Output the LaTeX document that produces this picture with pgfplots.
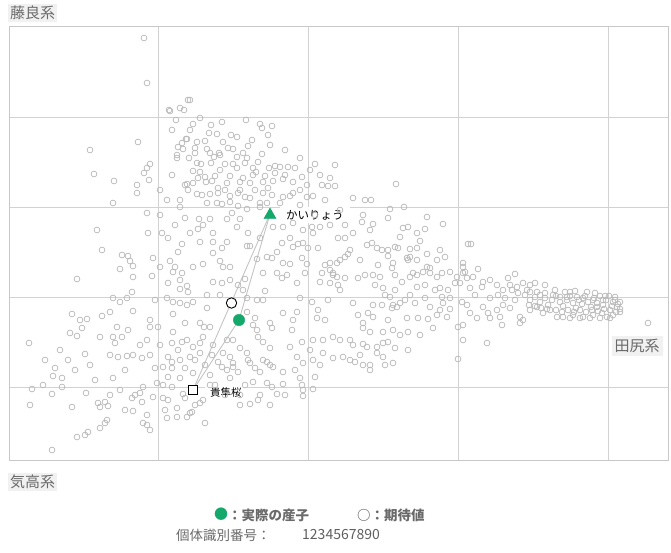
\documentclass[border=0pt]{standalone}
\usepackage{pgfplots}
\pgfplotsset{compat=1.18}
\usepackage{fontspec}
\setmainfont{Noto Sans CJK JP}
\definecolor{ptgray}{HTML}{B8B8B8}
\definecolor{gridgray}{HTML}{D2D2D2}
\definecolor{framegray}{HTML}{C8C8C8}
\definecolor{lblbg}{HTML}{F1F1F1}
\definecolor{lbltext}{HTML}{6A6A6A}
\definecolor{mygreen}{HTML}{14A86A}
\definecolor{linegray}{HTML}{C4C4C4}
\begin{document}
\begin{tikzpicture}
\begin{axis}[
  scale only axis, width=659pt, height=433pt,
  xmin=9, xmax=668, ymin=27, ymax=460, y dir=reverse,
  xtick={158,308,458,608}, ytick={117,207,297,387},
  xticklabels={}, yticklabels={}, major tick length=0pt,
  grid=major, grid style={draw=gridgray, line width=0.8pt},
  axis line style={draw=framegray, line width=1pt},
  clip=false,
]
\path (axis cs:0,0) rectangle (axis cs:671,553);
\addplot[only marks, mark=o, mark size=2.9pt, color=ptgray, mark options={line width=0.7pt}] table {
x y
144 38
147 83
188 100
190 100
169 110
180 108
184 110
193 124
211 125
260 124
262 128
272 126
172 130
209 133
217 134
231 135
237 137
138 142
90 150
186 139
182 143
197 142
183 149
195 148
207 149
210 153
228 148
233 149
262 154
220 155
243 153
150 164
147 168
144 173
94 174
114 181
137 185
137 193
149 180
113 203
177 158
189 158
197 163
201 164
211 163
193 171
225 164
233 164
237 168
247 158
245 163
253 168
258 162
253 175
269 168
275 166
280 167
275 173
288 167
295 168
315 164
335 165
185 185
187 184
193 183
206 182
212 181
218 188
230 176
227 183
240 182
250 183
263 182
273 181
283 179
293 182
302 177
307 185
328 186
335 186
197 194
202 195
210 194
218 193
230 196
238 193
245 197
263 193
272 195
283 197
293 193
290 196
307 197
313 196
167 200
180 200
180 207
207 203
217 203
222 204
230 202
238 206
247 209
260 203
267 203
260 207
147 213
97 230
148 233
162 233
190 233
199 219
210 219
198 229
203 225
213 233
227 219
232 213
240 219
248 233
237 227
273 227
283 227
293 223
303 230
312 227
320 227
313 233
170 111
187 139
219 153
237 157
177 155
214 157
195 153
200 172
220 170
215 176
205 177
240 190
255 190
268 188
300 190
320 175
330 178
227 242
200 242
213 242
182 244
178 252
222 248
247 246
250 246
282 243
298 244
303 243
293 247
308 248
318 248
102 250
122 255
128 256
130 261
133 266
153 258
160 267
170 261
175 267
173 272
182 273
193 267
203 264
213 253
220 261
223 267
230 267
257 259
267 257
272 258
277 252
283 263
290 264
302 258
307 264
305 273
325 265
330 263
330 270
322 273
333 273
77 279
120 269
133 277
152 276
168 283
180 280
187 286
188 292
180 289
213 282
222 283
230 280
245 279
238 285
243 290
263 273
277 273
282 278
287 275
297 283
265 291
320 282
330 283
132 292
167 298
173 302
180 303
187 305
193 302
113 298
120 302
127 298
155 300
207 295
220 295
247 298
257 300
263 300
300 298
312 302
328 300
72 314
80 320
87 319
102 316
110 312
133 311
150 320
158 327
173 314
185 323
200 323
204 327
210 327
207 308
247 312
255 318
253 325
257 330
270 323
272 328
283 313
293 320
297 312
318 310
292 330
317 318
325 320
29 343
70 333
77 336
82 328
100 337
117 327
113 337
115 343
122 337
128 330
147 340
150 327
173 332
172 343
182 342
187 340
193 347
200 343
203 337
213 345
227 340
233 340
240 348
258 337
263 342
270 348
290 347
302 342
313 340
323 340
333 337
68 360
85 354
110 355
118 357
127 356
133 355
142 358
168 357
172 362
180 360
190 357
200 353
212 355
223 353
230 357
233 363
247 353
248 360
263 360
267 362
270 365
297 357
303 363
313 360
323 353
333 358
55 368
53 376
62 378
113 378
155 368
163 367
172 368
168 377
185 368
193 373
210 375
222 367
227 370
233 367
238 372
250 363
255 368
260 372
273 367
283 372
300 378
315 377
43 385
62 387
210 385
230 378
253 382
267 383
283 384
302 385
32 389
52 394
86 393
30 405
72 407
98 403
100 407
105 402
108 406
132 398
135 395
143 387
140 393
142 402
153 397
133 411
147 415
107 420
105 423
100 428
88 432
85 435
77 437
143 423
147 425
150 430
52 450
157 383
163 385
172 387
183 394
185 398
163 398
168 400
177 408
167 418
177 417
187 417
190 413
192 412
195 405
200 403
203 400
205 423
250 404
258 400
270 405
272 387
277 394
303 390
313 389
303 396
396 184
353 198
365 200
371 200
390 209
404 207
363 215
362 222
373 224
427 217
443 224
388 218
353 233
370 230
403 228
408 227
400 237
417 233
425 229
420 241
338 238
345 238
367 245
372 243
377 248
382 250
388 250
395 247
398 248
410 249
417 248
388 256
407 258
427 254
440 250
445 257
468 244
471 244
345 257
348 254
340 260
337 263
378 265
393 263
392 268
410 257
408 260
417 260
427 267
430 268
437 260
463 263
463 267
478 269
465 272
333 275
337 277
345 278
358 278
365 275
373 275
380 277
395 275
402 282
410 277
413 273
417 275
423 272
430 273
437 277
442 273
450 272
457 277
463 273
467 278
473 277
483 282
490 280
497 285
508 278
515 274
510 285
517 287
523 283
530 285
535 283
570 292
338 285
340 290
383 288
385 295
390 297
393 305
397 307
405 300
417 287
425 285
440 288
442 297
448 290
455 283
460 283
470 288
482 287
498 295
503 290
512 290
518 293
527 290
537 292
545 293
553 295
560 297
567 297
577 297
583 298
593 300
603 300
613 302
617 307
620 312
613 315
607 317
648 323
353 303
373 305
382 305
392 308
400 303
415 303
430 307
443 303
440 310
450 309
462 302
467 305
470 313
483 307
488 313
497 310
503 305
510 308
500 317
490 318
477 318
502 325
520 317
523 320
520 323
530 310
537 307
543 313
550 310
557 317
563 317
573 315
583 317
593 315
602 313
597 307
358 315
368 313
373 317
388 320
407 318
418 318
428 319
437 315
447 317
458 327
463 325
433 328
363 323
363 328
370 332
383 332
393 330
400 335
408 332
420 335
340 340
350 340
353 345
463 340
487 343
363 344
367 347
377 347
383 343
388 342
408 350
395 348
343 357
350 360
355 362
360 355
363 365
370 365
370 370
377 353
383 357
385 365
393 363
458 359
525 295
530 300
535 297
540 302
545 298
548 305
552 300
556 296
560 302
563 306
567 300
570 296
573 303
576 308
579 300
582 304
585 296
588 302
591 307
594 298
597 303
600 296
603 305
606 300
609 296
612 306
615 300
618 304
620 309
556 310
562 312
568 310
574 312
580 310
586 312
592 310
598 311
604 309
610 310
616 312
547 309
541 308
535 306
529 305
600 318
590 318
580 318
570 318
610 318
587 292
595 293
605 296
615 297
620 302
575 291
565 292
555 290
176 120
200 118
222 122
246 120
268 135
252 140
190 130
178 147
205 141
223 142
248 146
270 145
285 150
300 158
256 172
243 178
265 176
285 175
310 170
322 185
198 178
188 190
172 175
160 190
225 190
250 198
280 203
300 205
325 200
340 210
315 215
330 225
345 225
290 238
260 238
175 225
185 218
160 215
168 238
160 345
178 350
195 360
205 365
218 362
215 385
225 395
240 395
245 385
180 378
150 355
140 345
125 370
90 365
95 380
75 370
60 350
45 360
120 390
110 395
125 410
165 410
240 405
260 395
285 395
295 370
310 350
320 365
350 250
360 260
375 285
395 290
410 295
425 298
435 290
450 298
475 295
490 298
505 298
515 300
530 292
545 285
540 295
};
% connecting lines
\addplot[linegray, line width=0.9pt] coordinates {(270,214) (193,390)};
\addplot[linegray, line width=0.9pt] coordinates {(270,214) (239,320) (193,390)};
% special markers
\addplot[only marks, mark=triangle*, mark size=7pt, color=mygreen] coordinates {(270,215)};
\addplot[only marks, mark=square*, mark size=4.8pt, mark options={draw=black, fill=white, line width=1pt}] coordinates {(193,390)};
\addplot[only marks, mark=*, mark size=5.2pt, mark options={draw=black, fill=white, line width=0.9pt}] coordinates {(231.5,303)};
\addplot[only marks, mark=*, mark size=5.7pt, mark options={draw=mygreen, fill=mygreen}] coordinates {(239,320)};
% point labels
\node[anchor=west, fill=white, inner xsep=6pt, inner ysep=3pt, font=\fontsize{11.5}{13}\selectfont] at (axis cs:280,215) {かいりょう};
\node[anchor=west, fill=white, inner xsep=5pt, inner ysep=3pt, font=\fontsize{10.5}{12}\selectfont] at (axis cs:205,392) {貴隼桜};
% axis group labels
\node[anchor=west, fill=lblbg, text=lbltext, inner sep=2pt, font=\fontsize{15}{17}\selectfont] at (axis cs:8,13) {藤良系};
\node[anchor=center, fill=lblbg, text=lbltext, inner sep=3pt, font=\fontsize{15}{17}\selectfont] at (axis cs:637,346) {田尻系};
\node[anchor=west, fill=lblbg, text=lbltext, inner sep=2pt, font=\fontsize{15}{17}\selectfont] at (axis cs:8,482) {気高系};
% legend
\node[anchor=center, text=mygreen, font=\fontsize{14}{16}\selectfont] at (axis cs:221,514) {●};
\node[anchor=west, text=lbltext, inner sep=0pt, font=\bfseries\fontsize{13.5}{16}\selectfont] at (axis cs:228,515) {：実際の産子};
\node[anchor=west, text=lbltext, inner sep=0pt, font=\bfseries\fontsize{13.5}{16}\selectfont] at (axis cs:357,515) {○：期待値};
\node[anchor=west, text=lbltext, inner sep=0pt, font=\fontsize{13.5}{16}\selectfont] at (axis cs:176,535) {個体識別番号：};
\node[anchor=west, text=lbltext!90!black, inner sep=0pt, font=\fontsize{14}{16}\selectfont] at (axis cs:302,535) {1234567890};
\end{axis}
\end{tikzpicture}
\end{document}
